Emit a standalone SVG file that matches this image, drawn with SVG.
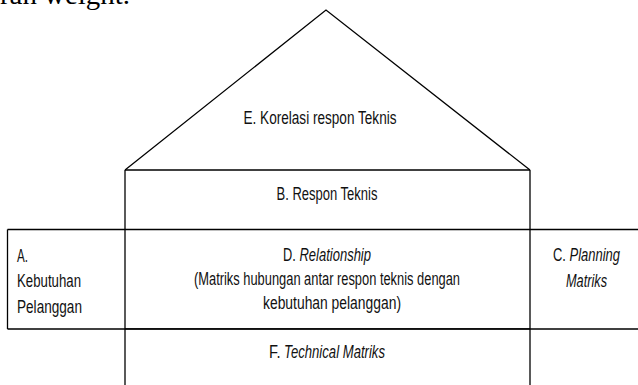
<svg xmlns="http://www.w3.org/2000/svg" width="638" height="385" viewBox="0 0 638 385">
<style>
.ln{stroke:#000;stroke-width:1.3;fill:none}
.t{font-family:"Liberation Sans",Arial,sans-serif;font-size:17.5px;fill:#111;text-anchor:middle}
.l{text-anchor:start}
.i{font-style:italic}
</style>
<rect width="638" height="385" fill="#fff"/>
<text x="130" y="4" font-family="Liberation Serif,serif" font-size="28" text-anchor="end" fill="#000" textLength="130" lengthAdjust="spacingAndGlyphs">ran weight.</text>
<g id="connectors">
<polyline class="ln" points="125,170 326,10 530,170"/>
<line class="ln" x1="125" y1="170" x2="530" y2="170" stroke-width="1.6"/>
<line class="ln" x1="125" y1="170" x2="125" y2="385"/>
<line class="ln" x1="530" y1="170" x2="530" y2="385"/>
<line class="ln" x1="7.5" y1="229.5" x2="638" y2="229.5" stroke-width="1.6"/>
<line class="ln" x1="7.5" y1="329" x2="638" y2="329"/>
<line class="ln" x1="125" y1="328.8" x2="530" y2="328.8" stroke-width="2.6"/>
<line class="ln" x1="7.5" y1="229.5" x2="7.5" y2="329"/>
</g>
<g id="E"><text class="t" x="320" y="124" textLength="153" lengthAdjust="spacingAndGlyphs">E. Korelasi respon Teknis</text></g>
<g id="B"><text class="t" x="327" y="200" textLength="101" lengthAdjust="spacingAndGlyphs">B. Respon Teknis</text></g>
<g id="A">
<text class="t l" x="17" y="262" textLength="11" lengthAdjust="spacingAndGlyphs">A.</text>
<text class="t l" x="17" y="287" textLength="64" lengthAdjust="spacingAndGlyphs">Kebutuhan</text>
<text class="t l" x="17" y="313" textLength="65" lengthAdjust="spacingAndGlyphs">Pelanggan</text>
</g>
<g id="D">
<text class="t l" x="283" y="261" textLength="12.8" lengthAdjust="spacingAndGlyphs">D.</text>
<text class="t l i" x="299.4" y="261" textLength="71.6" lengthAdjust="spacingAndGlyphs">Relationship</text>
<text class="t" x="327" y="285" textLength="266" lengthAdjust="spacingAndGlyphs">(Matriks hubungan antar respon teknis dengan</text>
<text class="t" x="332" y="309" textLength="138" lengthAdjust="spacingAndGlyphs">kebutuhan pelanggan)</text>
</g>
<g id="C">
<text class="t l" x="553" y="261" textLength="12.9" lengthAdjust="spacingAndGlyphs">C.</text>
<text class="t l i" x="569.5" y="261" textLength="50.5" lengthAdjust="spacingAndGlyphs">Planning</text>
<text class="t i" x="586.5" y="287" textLength="41" lengthAdjust="spacingAndGlyphs">Matriks</text>
</g>
<g id="F">
<text class="t l" x="269" y="358" textLength="11.5" lengthAdjust="spacingAndGlyphs">F.</text>
<text class="t l i" x="284.1" y="358" textLength="100.9" lengthAdjust="spacingAndGlyphs">Technical Matriks</text>
</g>
</svg>
